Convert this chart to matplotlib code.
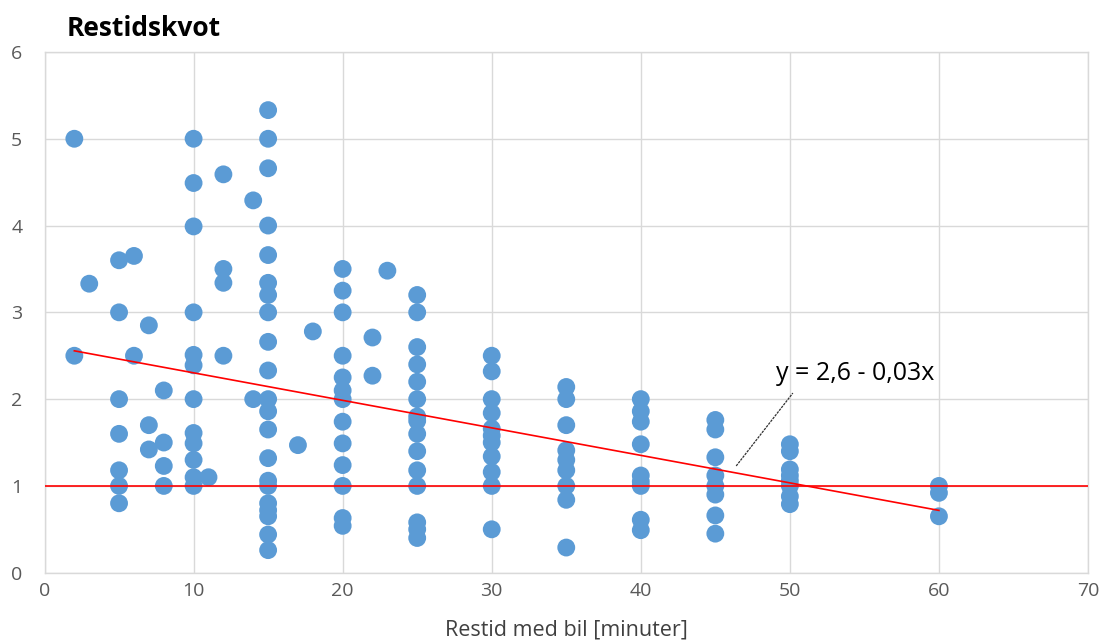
import matplotlib.pyplot as plt
import numpy as np

plt.rcParams['font.family'] = ['Open Sans', 'DejaVu Sans']

# Travel time by car (minutes) and the observed travel-time ratios at each value
minutes = [2, 3, 5, 6, 7, 8, 10, 11, 12, 14, 15, 17, 18, 20, 22, 23, 25,
           30, 35, 40, 45, 50, 60]
ratios = [
    [5.0, 2.5],
    [3.33],
    [3.6, 3.0, 2.0, 1.6, 1.18, 1.0, 0.8],
    [3.65, 2.5],
    [2.85, 1.7, 1.42],
    [2.1, 1.5, 1.23, 1.0],
    [5.0, 4.49, 3.99, 3.0, 2.51, 2.39, 2.0, 1.61, 1.49, 1.3, 1.1, 1.0],
    [1.1],
    [4.59, 3.5, 3.34, 2.5],
    [4.29, 2.0],
    [5.33, 5.0, 4.66, 4.0, 3.66, 3.34, 3.2, 3.0, 2.66, 2.33, 2.0, 1.86,
     1.65, 1.32, 1.06, 1.0, 0.8, 0.72, 0.65, 0.44, 0.26],
    [1.47],
    [2.78],
    [3.5, 3.25, 3.0, 2.5, 2.25, 2.1, 2.0, 1.74, 1.49, 1.24, 1.0, 0.63, 0.54],
    [2.71, 2.27],
    [3.48],
    [3.2, 3.0, 2.6, 2.4, 2.2, 2.0, 1.8, 1.75, 1.6, 1.4, 1.18, 1.0, 0.58,
     0.5, 0.4],
    [2.5, 2.32, 2.0, 1.84, 1.66, 1.58, 1.5, 1.34, 1.16, 1.0, 0.5],
    [2.14, 2.0, 1.7, 1.41, 1.3, 1.18, 1.0, 0.84, 0.29],
    [2.0, 1.86, 1.74, 1.48, 1.12, 1.05, 1.0, 0.61, 0.49],
    [1.76, 1.65, 1.33, 1.12, 1.0, 0.9, 0.66, 0.45],
    [1.48, 1.4, 1.19, 1.12, 1.06, 1.0, 0.88, 0.79],
    [1.0, 0.92, 0.65],
]
# linear trendline coefficients
trend_intercept = 2.62
trend_slope = -0.0317

x_ticks = [0, 10, 20, 30, 40, 50, 60, 70]
y_ticks = [0, 1, 2, 3, 4, 5, 6]

x = np.concatenate([[m] * len(r) for m, r in zip(minutes, ratios)])
y = np.concatenate(ratios)

BLUE = '#5B9BD5'
GRID = '#D9D9D9'
TICK = '#595959'

fig = plt.figure(figsize=(11.02, 6.44), dpi=100)
ax = fig.add_axes([0.0404, 0.1107, 0.9469, 0.8086])

ax.scatter(x, y, s=165, color=BLUE, edgecolors='none', zorder=3)

# parity line and linear trend
ax.axhline(1, color='#FF0000', lw=1.2, zorder=4)
xt = np.array([x.min(), x.max()])
ax.plot(xt, trend_intercept + trend_slope * xt, color='#FF0000', lw=1.2,
        zorder=4)

label = f"y = {trend_intercept:.1f} - {abs(trend_slope):.2f}x".replace('.', ',')
ax.text(54.4, 2.3, label, ha='center', va='center', fontsize=18,
        color='#000000', zorder=5)
ax.plot([46.4, 50.2], [1.23, 2.07], color='#303030', lw=0.9,
        linestyle=(0, (2, 0.8)), zorder=5)

ax.set_xlim(0, 70)
ax.set_ylim(0, 6)
ax.set_xticks(x_ticks)
ax.set_yticks(y_ticks)
ax.grid(True, color=GRID, lw=1)
ax.set_axisbelow(True)
for sp in ax.spines.values():
    sp.set_color(GRID)
    sp.set_linewidth(1)
ax.tick_params(length=0, labelsize=14, colors=TICK, pad=7)
ax.tick_params(axis='y', pad=16)

ax.set_xlabel('Restid med bil [minuter]', fontsize=15.5, color='#404040',
              labelpad=14)
fig.text(67 / 1102, 1 - 28 / 644, 'Restidskvot', fontsize=19,
         fontweight='bold', color='#000000', va='center', ha='left')

fig.savefig('out.png', dpi=100, facecolor='white')
